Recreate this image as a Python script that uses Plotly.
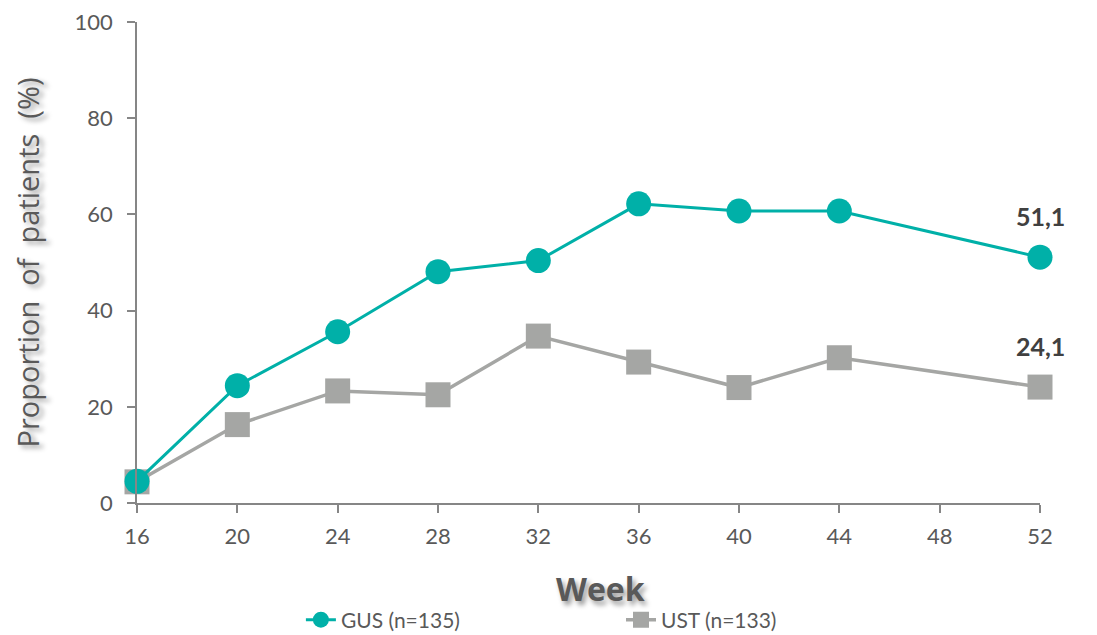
import plotly.graph_objects as go

weeks = [16, 20, 24, 28, 32, 36, 40, 44, 52]
gus = [4.5, 24.4, 35.6, 48.1, 50.4, 62.2, 60.7, 60.7, 51.1]
ust = [4.4, 16.3, 23.3, 22.5, 34.7, 29.3, 24.0, 30.2, 24.1]
gus_name = "GUS (n=135)"
ust_name = "UST (n=133)"
x_ticks = [16, 20, 24, 28, 32, 36, 40, 44, 48, 52]
y_ticks = [0, 20, 40, 60, 80, 100]

teal = "#00B0A8"
grey = "#A5A6A4"
txt = "#595959"
axc = "#868686"
FONT = "Lato, 'Open Sans', sans-serif"
FONT2 = "'Open Sans', Lato, sans-serif"

fig = go.Figure()
fig.add_trace(go.Scatter(x=weeks, y=ust, name=ust_name, mode="lines+markers",
                         line=dict(color=grey, width=3.5),
                         marker=dict(symbol="square", size=25, color=grey),
                         legend="legend2", cliponaxis=False))
fig.add_trace(go.Scatter(x=weeks, y=gus, name=gus_name, mode="lines+markers",
                         line=dict(color=teal, width=3),
                         marker=dict(symbol="circle", size=25, color=teal),
                         legend="legend", cliponaxis=False))

fig.add_annotation(x=weeks[-1], y=gus[-1], text="<b>51,1</b>", showarrow=False,
                   yshift=41, font=dict(size=25, color="#404040", family=FONT))
fig.add_annotation(x=weeks[-1], y=ust[-1], text="<b>24,1</b>", showarrow=False,
                   yshift=41, font=dict(size=25, color="#404040", family=FONT))

# x-axis title
fig.add_annotation(x=0.5, y=0, xref="paper", yref="paper", text="<b>Week</b>",
                   showarrow=False, xanchor="center", yanchor="middle",
                   xshift=12, yshift=-85,
                   font=dict(size=32, color=txt, family=FONT2,
                             shadow="3px 4px 5px #9a9a9a"))

leg_common = dict(orientation="h", yanchor="middle", y=0.0362, yref="container",
                  xanchor="left", xref="container",
                  font=dict(size=21, color=txt), bgcolor="rgba(0,0,0,0)")

fig.update_layout(
    width=1097, height=635,
    margin=dict(l=129, r=65, t=14, b=140),
    paper_bgcolor="white", plot_bgcolor="white",
    font=dict(family=FONT, color=txt, size=22),
    showlegend=True,
    legend=dict(x=0.267, **leg_common),
    legend2=dict(x=0.5588, **leg_common),
    xaxis=dict(range=[16, 52], tickvals=x_ticks, showgrid=False, zeroline=False,
               automargin=False, ticklabeloverflow="allow",
               showline=True, linecolor=axc, linewidth=1.5,
               ticks="outside", ticklen=8, tickcolor=axc, tickwidth=1.5,
               ticklabelstandoff=5,
               tickfont=dict(size=22, color=txt)),
    yaxis=dict(range=[0, 100], tickvals=y_ticks, showgrid=False, zeroline=False,
               automargin=False, ticklabeloverflow="allow",
               showline=True, linecolor=axc, linewidth=1.5,
               ticks="outside", ticklen=8, tickcolor=axc, tickwidth=1.5,
               ticklabelstandoff=10,
               tickfont=dict(size=22, color=txt),
               title=dict(text="Proportion  of  patients  (%)", standoff=28,
                          font=dict(size=29, color=txt, family=FONT2,
                                    shadow="-3px 4px 5px #9a9a9a"))),
)

fig.write_html("out.html")
